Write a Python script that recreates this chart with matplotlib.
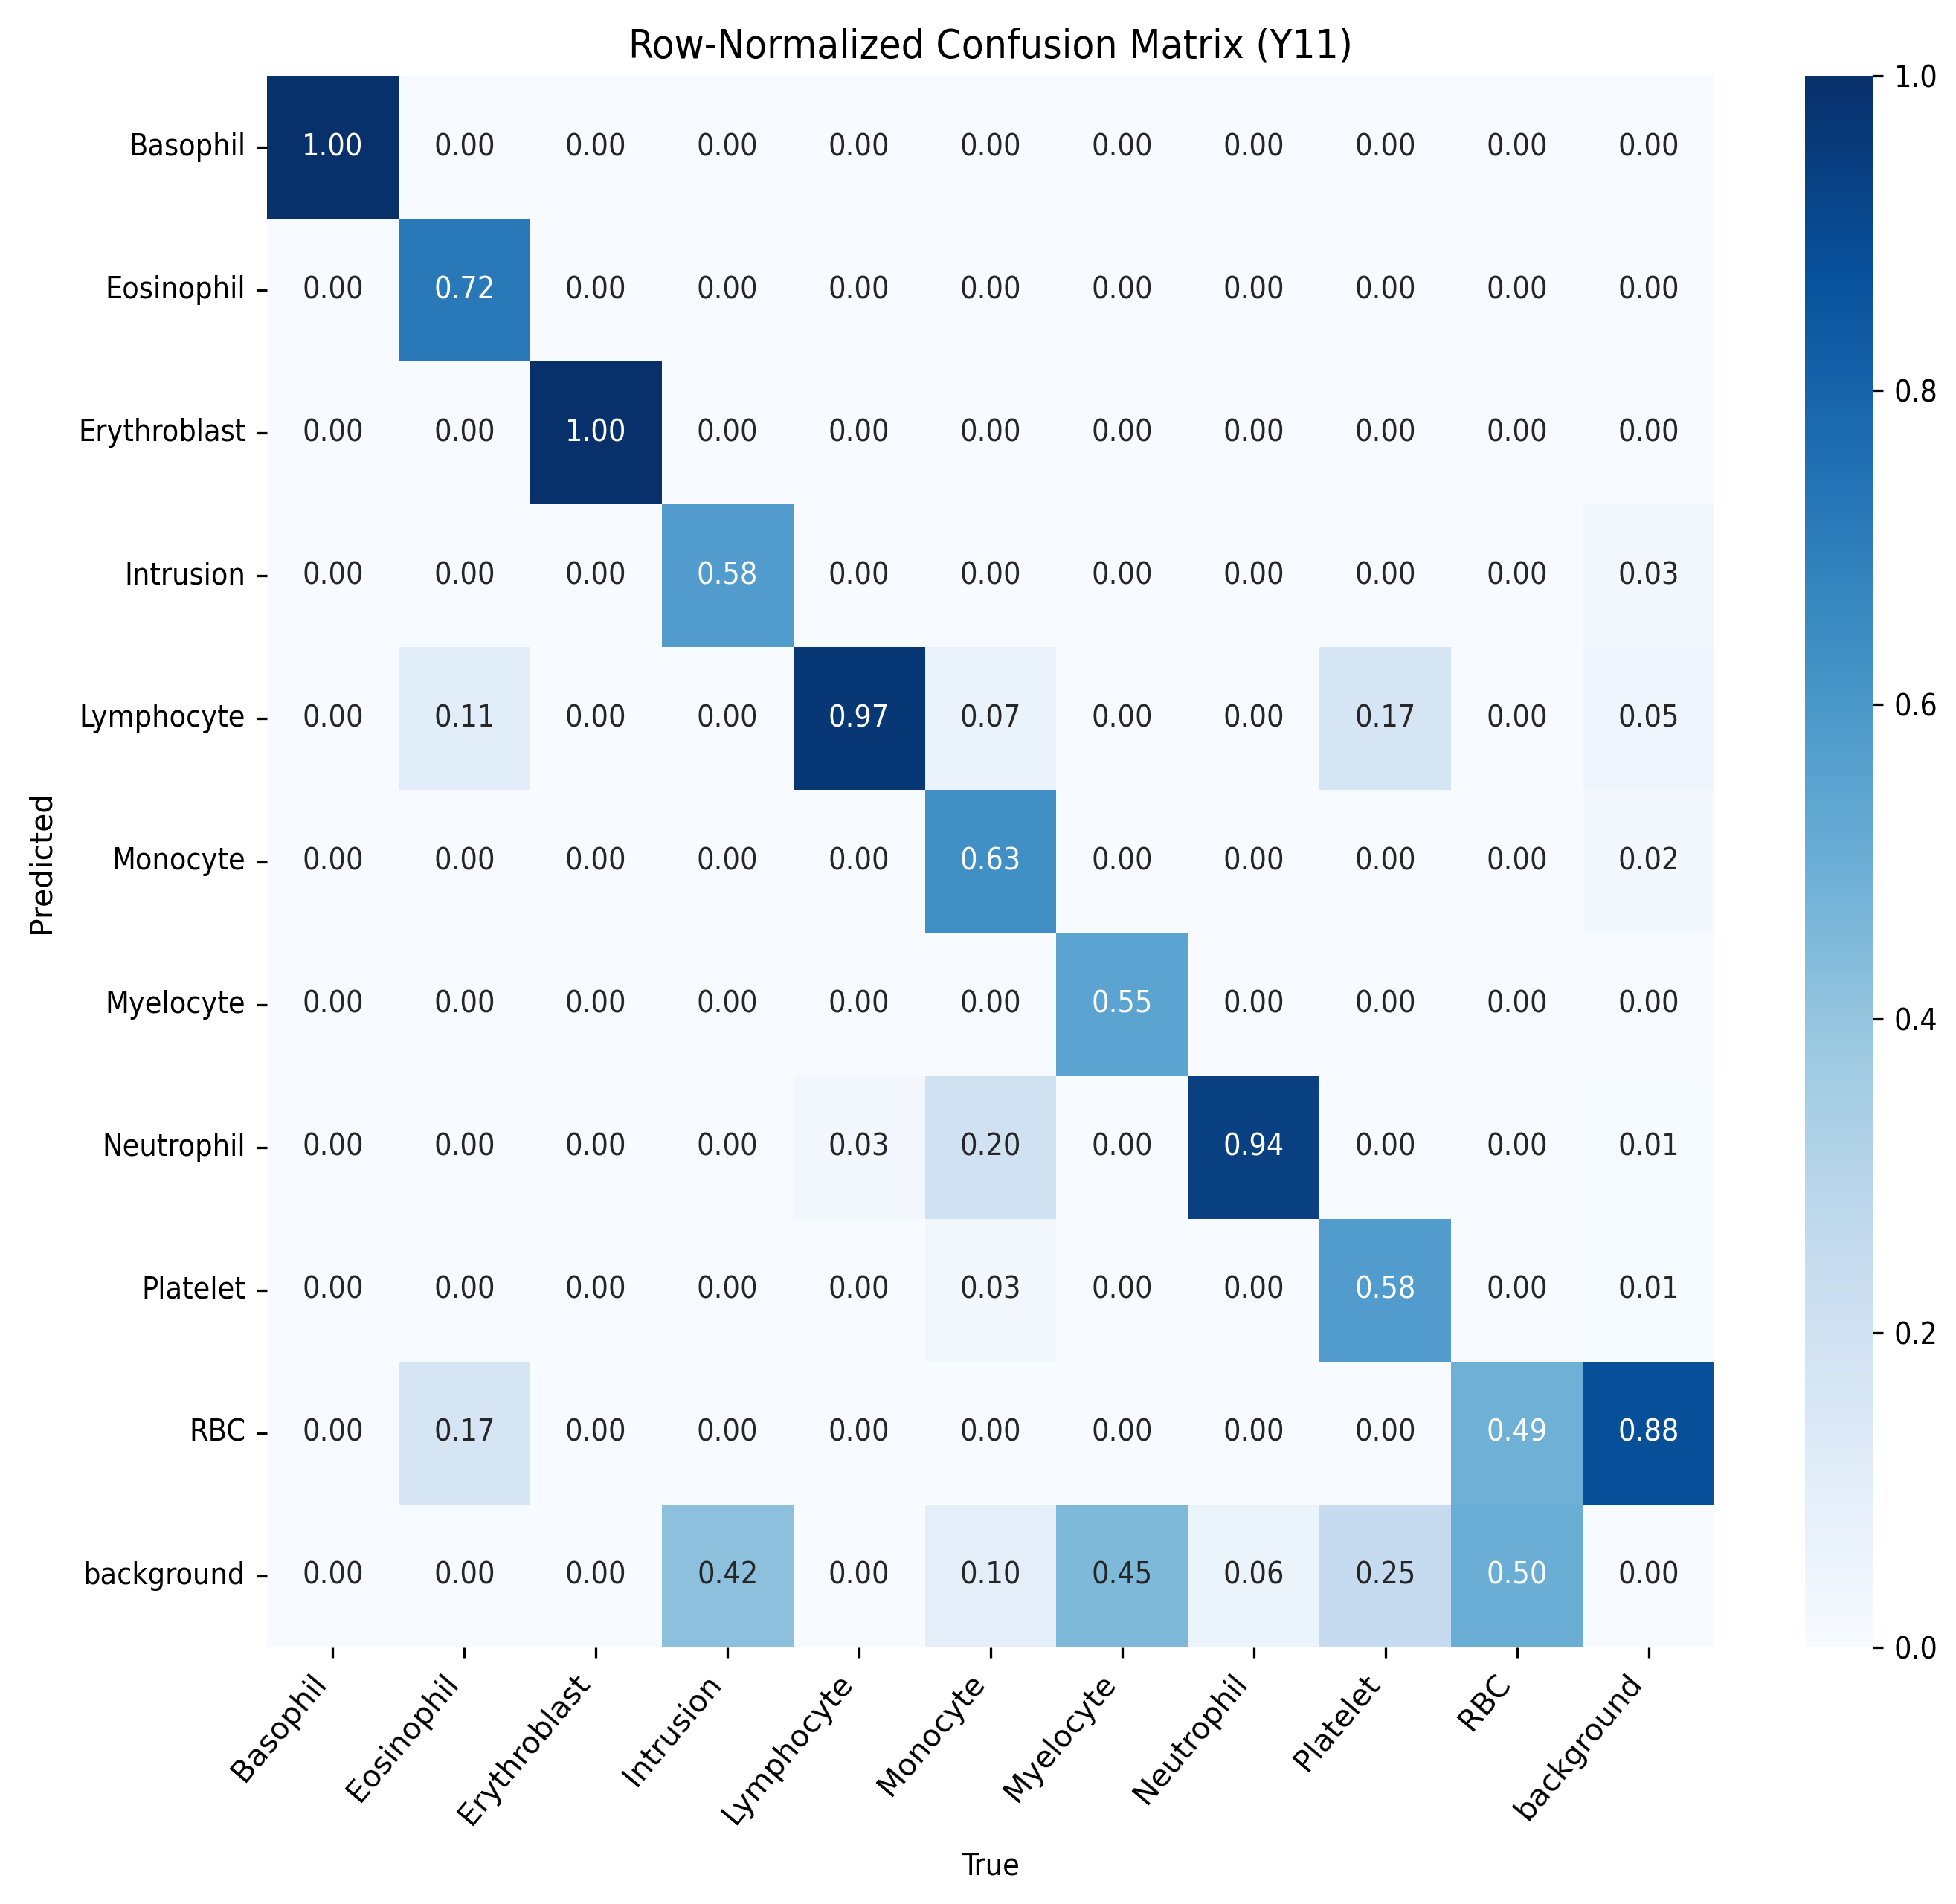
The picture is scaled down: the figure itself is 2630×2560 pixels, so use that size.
import matplotlib
matplotlib.use("Agg")
import matplotlib.pyplot as plt
import numpy as np
import pandas as pd
import seaborn as sns

classes = ["Basophil", "Eosinophil", "Erythroblast", "Intrusion", "Lymphocyte",
           "Monocyte", "Myelocyte", "Neutrophil", "Platelet", "RBC", "background"]

row_basophil     = [1.00, 0.00, 0.00, 0.00, 0.00, 0.00, 0.00, 0.00, 0.00, 0.00, 0.00]
row_eosinophil   = [0.00, 0.72, 0.00, 0.00, 0.00, 0.00, 0.00, 0.00, 0.00, 0.00, 0.00]
row_erythroblast = [0.00, 0.00, 1.00, 0.00, 0.00, 0.00, 0.00, 0.00, 0.00, 0.00, 0.00]
row_intrusion    = [0.00, 0.00, 0.00, 0.58, 0.00, 0.00, 0.00, 0.00, 0.00, 0.00, 0.03]
row_lymphocyte   = [0.00, 0.11, 0.00, 0.00, 0.97, 0.07, 0.00, 0.00, 0.17, 0.00, 0.05]
row_monocyte     = [0.00, 0.00, 0.00, 0.00, 0.00, 0.63, 0.00, 0.00, 0.00, 0.00, 0.02]
row_myelocyte    = [0.00, 0.00, 0.00, 0.00, 0.00, 0.00, 0.55, 0.00, 0.00, 0.00, 0.00]
row_neutrophil   = [0.00, 0.00, 0.00, 0.00, 0.03, 0.20, 0.00, 0.94, 0.00, 0.00, 0.01]
row_platelet     = [0.00, 0.00, 0.00, 0.00, 0.00, 0.03, 0.00, 0.00, 0.58, 0.00, 0.01]
row_rbc          = [0.00, 0.17, 0.00, 0.00, 0.00, 0.00, 0.00, 0.00, 0.00, 0.49, 0.88]
row_background   = [0.00, 0.00, 0.00, 0.42, 0.00, 0.10, 0.45, 0.06, 0.25, 0.50, 0.00]

rows = [row_basophil, row_eosinophil, row_erythroblast, row_intrusion, row_lymphocyte,
        row_monocyte, row_myelocyte, row_neutrophil, row_platelet, row_rbc, row_background]

df = pd.DataFrame(rows, index=classes, columns=classes)

plt.rcParams['font.family'] = ['DejaVu Sans']
plt.rcParams['font.stretch'] = 'condensed'
plt.rcParams['font.size'] = 10

W, H, DPI = 2630, 2560, 295
fig = plt.figure(figsize=(W / DPI, H / DPI), dpi=DPI)
left, right, top, bottom = 359, 2305, 102, 2215
ax = fig.add_axes([left / W, 1 - bottom / H, (right - left) / W, (bottom - top) / H])
cax = fig.add_axes([2427 / W, 1 - bottom / H, 91 / W, (bottom - top) / H])

sns.heatmap(df, annot=True, fmt=".2f", cmap="Blues", vmin=0, vmax=1,
            ax=ax, cbar_ax=cax, annot_kws={"fontsize": 10})

ax.set_title("Row-Normalized Confusion Matrix (Y11)", fontsize=13.3)
ax.set_xlabel("True", fontsize=10)
ax.set_ylabel("Predicted", fontsize=10, fontstretch="normal")
ax.set_xticklabels(classes, rotation=50, ha="right", fontsize=10, fontstretch="normal")
ax.set_yticklabels(classes, rotation=0, fontsize=10)
ax.yaxis.set_label_coords(-0.1457, 0.5)
ax.xaxis.set_label_coords(0.5, -0.130)
cax.tick_params(labelsize=10)

fig.savefig("out.png", dpi=DPI)
